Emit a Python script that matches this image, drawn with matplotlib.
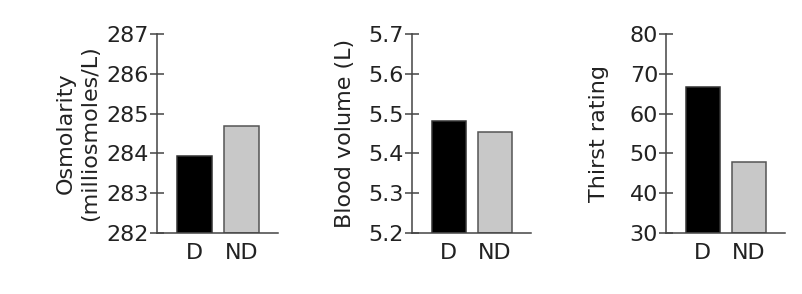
import matplotlib
matplotlib.use("Agg")
import matplotlib.pyplot as plt

# Data
groups = ["D", "ND"]
osmolarity = [283.93, 284.70]
blood_volume = [5.481, 5.454]
thirst = [66.7, 47.8]

panels = [
    (osmolarity, "Osmolarity\n(milliosmoles/L)", (282, 287), [282, 283, 284, 285, 286, 287], "{:.0f}"),
    (blood_volume, "Blood volume (L)", (5.2, 5.7), [5.2, 5.3, 5.4, 5.5, 5.6, 5.7], "{:.1f}"),
    (thirst, "Thirst rating", (30, 80), [30, 40, 50, 60, 70, 80], "{:.0f}"),
]

W, H = 802, 294
lefts = [157, 412, 666]
widths = [121, 119, 119]
bottom_px, top_px = 233, 34
fs = 16

text_col = "#222222"
axis_col = "#444444"
bar_fill = ["#000000", "#c8c8c8"]
bar_edge = ["#333333", "#555555"]

fig = plt.figure(figsize=(W / 100, H / 100), dpi=100)

for (vals, label, ylim, ticks, fmt), left, width in zip(panels, lefts, widths):
    ax = fig.add_axes([left / W, (H - bottom_px) / H, width / W, (bottom_px - top_px) / H])
    base = ylim[0]
    ax.bar(range(len(groups)), [v - base for v in vals], bottom=base, width=0.745,
           color=bar_fill, edgecolor=bar_edge, linewidth=1.1)
    ax.set_ylim(*ylim)
    ax.set_xlim(-0.80, 1.78)
    ax.set_yticks(ticks)
    ax.set_yticklabels([fmt.format(t) for t in ticks])
    ax.set_xticks(range(len(groups)))
    ax.set_xticklabels(groups)
    for s in ["top", "right"]:
        ax.spines[s].set_visible(False)
    for s in ["left", "bottom"]:
        ax.spines[s].set_color(axis_col)
        ax.spines[s].set_linewidth(1.1)
    ax.tick_params(axis="y", direction="inout", length=10.5, width=1.1, color=axis_col,
                   labelsize=fs, labelcolor=text_col, pad=0.5)
    ax.tick_params(axis="x", length=0, labelsize=fs, labelcolor=text_col, pad=7)
    ax.set_ylabel(label, fontsize=fs, color=text_col, linespacing=1.25)
    ax.yaxis.set_label_coords(-57 / width, 0.5)

plt.savefig("out.png", dpi=100)
plt.close()
